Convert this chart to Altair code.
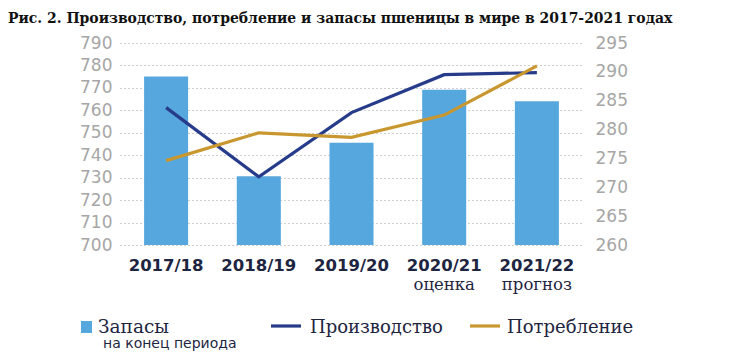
import altair as alt
import pandas as pd

cats = ["2017/18", "2018/19", "2019/20", "2020/21", "2021/22"]
subs = ["", "", "", "оценка", "прогноз"]
stocks = [289.2, 271.9, 277.7, 286.9, 284.9]
production = [761.2, 730.4, 759.0, 775.9, 776.8]
consumption = [737.6, 750.0, 748.0, 757.9, 779.8]

left_ticks = list(range(700, 791, 10))
right_ticks = list(range(260, 296, 5))

W, H = 463, 202
NAVY = "#1e2541"
GRAY = "#a6a6a6"
BAR = "#55a7dd"
PROD = "#263b8a"
CONS = "#c9972f"

bars_df = pd.DataFrame({"cat": cats, "stocks": stocks, "sub": subs})
lines_df = pd.DataFrame({
    "cat": cats * 2,
    "series": ["Производство"] * 5 + ["Потребление"] * 5,
    "value": production + consumption,
})

xenc = alt.X("cat:N", sort=cats,
             scale=alt.Scale(paddingInner=0.525, paddingOuter=0.26),
             axis=alt.Axis(title=None, labelFont="DejaVu Sans", labelFontWeight="bold",
                           labelFontSize=16.5, labelColor=NAVY, labelAngle=0,
                           domain=False, ticks=False, labelPadding=12))

bars = alt.Chart(bars_df).mark_bar(color=BAR).encode(
    x=xenc,
    y=alt.Y("stocks:Q", scale=alt.Scale(domain=[260, 295], nice=False, zero=False),
            axis=alt.Axis(orient="right", values=right_ticks, grid=False, domain=False,
                          ticks=False, labelColor=GRAY, labelFont="DejaVu Sans",
                          labelFontSize=17, labelPadding=12, title=None)),
    y2=alt.datum(260),
)

lines = alt.Chart(lines_df).mark_line(strokeWidth=3.2).encode(
    x=alt.X("cat:N", sort=cats),
    y=alt.Y("value:Q", scale=alt.Scale(domain=[700, 790], nice=False, zero=False),
            axis=alt.Axis(orient="left", values=left_ticks, grid=True, gridColor="#a0a0a0",
                          gridDash=[1, 3], gridWidth=1.2, domain=False, ticks=False,
                          labelColor=GRAY, labelFont="DejaVu Sans", labelFontSize=17,
                          labelPadding=8, title=None)),
    color=alt.Color("series:N", scale=alt.Scale(domain=["Производство", "Потребление"],
                                                range=[PROD, CONS]), legend=None),
)

sub_text = alt.Chart(bars_df).mark_text(font="DejaVu Serif", fontSize=16.5, color=NAVY,
                                        baseline="alphabetic").encode(
    x=alt.X("cat:N", sort=cats), y=alt.value(H + 45), text="sub:N")

title = alt.Chart(pd.DataFrame({"t": ["Рис. 2. Производство, потребление и запасы пшеницы в мире в 2017-2021 годах"]})).mark_text(
    font="DejaVu Serif Condensed", fontWeight="bold", fontSize=15.5, color="#111111",
    align="left", baseline="alphabetic").encode(x=alt.value(-112), y=alt.value(-20), text="t:N")

leg_square = alt.Chart(pd.DataFrame({"a": [1]})).mark_rect(color=BAR).encode(
    x=alt.value(-39), x2=alt.value(-28), y=alt.value(278), y2=alt.value(290))

leg_prod = alt.Chart(pd.DataFrame({"a": [1]})).mark_rule(color=PROD, strokeWidth=3.2).encode(
    x=alt.value(151), x2=alt.value(181), y=alt.value(283))
leg_cons = alt.Chart(pd.DataFrame({"a": [1]})).mark_rule(color=CONS, strokeWidth=3.2).encode(
    x=alt.value(350), x2=alt.value(380), y=alt.value(283))

def label(txt, x, y, size, font):
    return alt.Chart(pd.DataFrame({"t": [txt]})).mark_text(
        font=font, fontSize=size, color=NAVY, align="left", baseline="alphabetic").encode(
        x=alt.value(x), y=alt.value(y), text="t:N")

legend_texts = [
    label("Запасы", -22, 290, 18.5, "DejaVu Serif"),
    label("на конец периода", -17, 305, 14, "DejaVu Sans"),
    label("Производство", 190, 290, 18, "DejaVu Serif"),
    label("Потребление", 387, 290, 18, "DejaVu Serif"),
]

chart = alt.layer(bars, lines, sub_text, title, leg_square, leg_prod, leg_cons, *legend_texts).resolve_scale(
    y="independent"
).properties(
    width=W, height=H,
    autosize=alt.AutoSizeParams(type="none"),
    padding={"left": 112, "top": 35, "right": 135, "bottom": 110},
).configure_view(stroke=None)

chart.save("out.html", embed_options={"renderer": "svg", "actions": False})
